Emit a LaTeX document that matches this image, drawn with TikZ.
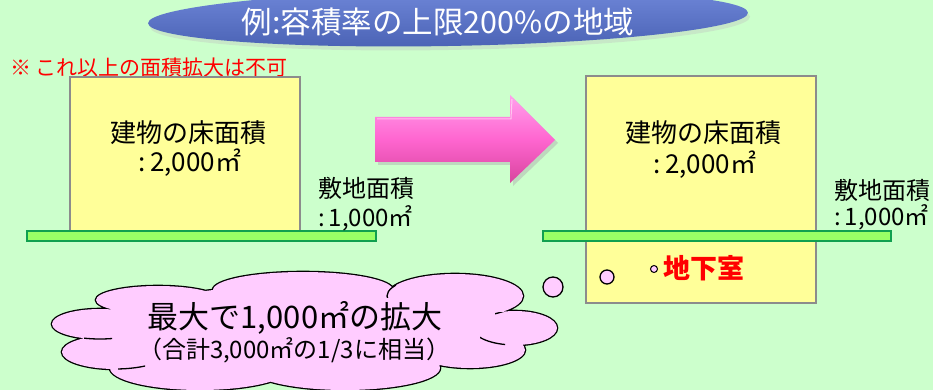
\documentclass[tikz,border=0pt]{standalone}
\usepackage{fontspec}
\setmainfont{Noto Sans CJK JP}
\definecolor{bg}{HTML}{CCFFCC}
\definecolor{titletop}{HTML}{7088DA}
\definecolor{titlebot}{HTML}{4A62B4}
\definecolor{boxfill}{HTML}{FFFF99}
\definecolor{boxline}{HTML}{8C8C8C}
\definecolor{groundfill}{HTML}{99FF66}
\definecolor{groundline}{HTML}{10A050}
\definecolor{cloudpink}{HTML}{FFCCFF}
\definecolor{arrowtop}{HTML}{FFA0EC}
\definecolor{arrowmid}{HTML}{FF66D0}
\definecolor{arrowbot}{HTML}{D8449E}
\tikzset{
  house/.style={draw=boxline, line width=1.2pt, fill=boxfill},
  ground/.style={draw=groundline, line width=1.5pt, fill=groundfill},
  bubble/.style={draw=black, line width=1.3pt, fill=cloudpink},
  bigtxt/.style={font=\fontsize{26}{30}\selectfont, inner sep=0pt},
  sitetxt/.style={font=\fontsize{24}{28}\selectfont, inner sep=0pt, anchor=west},
  cloudshape/.style={insert path={
    (158,300) ellipse [x radius=62pt, y radius=14pt]
    (303,290) ellipse [x radius=90pt, y radius=18pt]
    (455,296) ellipse [x radius=68pt, y radius=22pt]
    (515,328) ellipse [x radius=42pt, y radius=17pt]
    (470,350) ellipse [x radius=55pt, y radius=18pt]
    (345,368) ellipse [x radius=95pt, y radius=22pt]
    (200,368) ellipse [x radius=90pt, y radius=22pt]
    (115,352) ellipse [x radius=53pt, y radius=17pt]
    (100,324) ellipse [x radius=48pt, y radius=15pt]
    (305,330) ellipse [x radius=200pt, y radius=45pt]}},
  seam/.style={line width=1.3pt},
}
\begin{document}
\begin{tikzpicture}[x=1pt,y=-1pt]
\fill[bg] (0,0) rectangle (933,390);
\useasboundingbox (0,0) rectangle (933,390);
% title
\fill[black!25, opacity=0.35, rotate around={1:(448,18)}] (450,22) ellipse [x radius=300pt, y radius=28pt];
\shade[top color=titletop, bottom color=titlebot, rotate around={1:(448,18)}] (448,18) ellipse [x radius=300pt, y radius=28pt];
\node (title) [text=white, font=\fontsize{30.5}{34}\selectfont, inner sep=0pt] at (438,22) {例:容積率の上限200\%の地域};
% note
\node (note) [text=red, font=\fontsize{21}{24}\selectfont, inner sep=0pt, anchor=west] at (10,68) {※ これ以上の面積拡大は不可};
% left building
\node (lbox) [house, minimum width=230pt, minimum height=154pt, inner sep=0pt] at (185,154) {};
\node (lground) [ground, minimum width=349pt, minimum height=10pt, inner sep=0pt] at (201.5,236) {};
\node (lt1) [bigtxt] at (188,133) {建物の床面積};
\node (lt2) [bigtxt] at (190,163) {:\,2,000㎡};
\node (ls1) [sitetxt] at (318,188) {敷地面積};
\node (ls2) [sitetxt] at (318,218) {:\,1,000㎡};
% arrow
\fill[black!30, opacity=0.5] (378,120) -- (513,120) -- (513,98) -- (558,143) -- (513,186) -- (513,165) -- (378,165) -- cycle;
\shade[top color=arrowtop, bottom color=arrowbot, middle color=arrowmid] (375,117) -- (510,117) -- (510,95) -- (555,140) -- (510,183) -- (510,162) -- (375,162) -- cycle;
\draw[white, opacity=0.5, line width=1pt] (377,119) -- (511,119) -- (512,99);
% right building
\node (rbox) [house, minimum width=230pt, minimum height=227pt, inner sep=0pt] at (701,189.5) {};
\node (rground) [ground, minimum width=348pt, minimum height=10pt, inner sep=0pt] at (717,236) {};
\node (rt1) [bigtxt] at (703,133) {建物の床面積};
\node (rt2) [bigtxt] at (705,165) {:\,2,000㎡};
\node (rs1) [sitetxt] at (834,190) {敷地面積};
\node (rs2) [sitetxt] at (834,217) {:\,1,000㎡};
\node (base) [text=red, font=\fontsize{27}{30}\selectfont\bfseries, inner sep=0pt, anchor=west] at (663,268) {地下室};
% thought bubble
\draw[line width=2.6pt, cloudshape];
\fill[cloudpink, cloudshape];
\begin{scope}
  \clip (84,332) rectangle (112,346);
  \draw[seam] (100,324) ellipse [x radius=48pt, y radius=15pt];
\end{scope}
\begin{scope}
  \clip (118,360) rectangle (145,375);
  \draw[seam] (115,352) ellipse [x radius=53pt, y radius=17pt];
\end{scope}
\begin{scope}
  \clip (480,334) rectangle (505,350);
  \draw[seam] (515,328) ellipse [x radius=42pt, y radius=17pt];
\end{scope}
\begin{scope}
  \clip (495,312) rectangle (525,324);
  \draw[seam] (455,296) ellipse [x radius=68pt, y radius=22pt];
\end{scope}
\begin{scope}
  \clip (386,283) rectangle (396,297);
  \draw[seam] (455,296) ellipse [x radius=68pt, y radius=22pt];
\end{scope}
\node (c1) [circle, bubble, minimum size=20pt, inner sep=0pt] at (553,287) {};
\node (c2) [circle, bubble, minimum size=14pt, inner sep=0pt] at (607,277) {};
\node (c3) [circle, bubble, minimum size=7pt, inner sep=0pt, line width=1pt] at (654,269) {};
\node (ct1) [font=\fontsize{31}{34}\selectfont, inner sep=0pt] at (295,318) {最大で1,000㎡の拡大};
\node (ct2) [font=\fontsize{24}{28}\selectfont, inner sep=0pt] at (294,350) {（合計3,000㎡の1/3に相当）};
\end{tikzpicture}
\end{document}
